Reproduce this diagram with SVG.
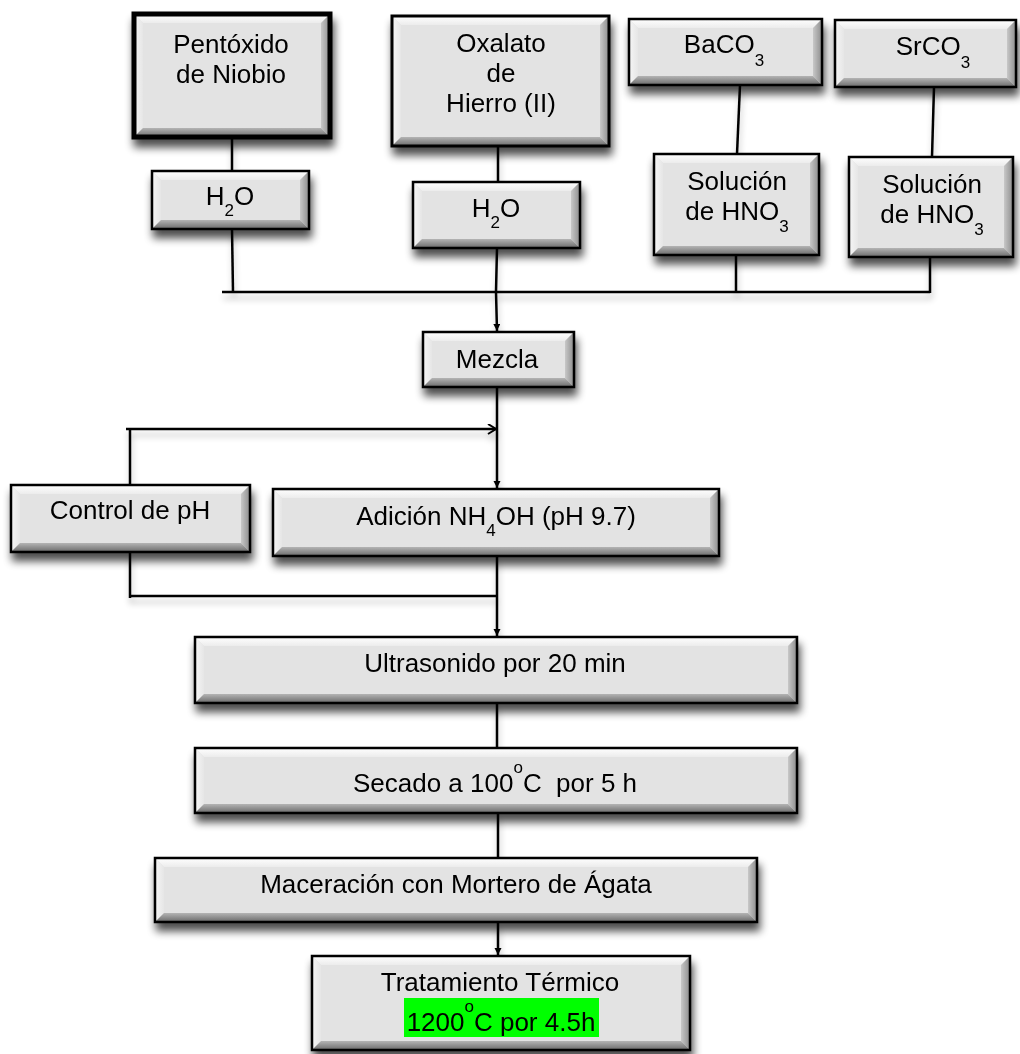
<svg xmlns="http://www.w3.org/2000/svg" width="1020" height="1054" viewBox="0 0 1020 1054">
<defs>
<style>
.t{font-family:"Liberation Sans",Arial,sans-serif;font-size:26px;fill:#000;text-anchor:middle}
.s{font-size:17px}
.face{fill:#e3e3e3}
.bt{fill:url(#gTop)}
.bl{fill:url(#gLeft)}
.br{fill:url(#gRight)}
.bb{fill:url(#gBot)}
.bd{fill:none;stroke:#000;stroke-width:2.5}
.c{fill:none;stroke:#000;stroke-width:2.5}
</style>
<linearGradient id="gTop" x1="0" y1="0" x2="0" y2="1"><stop offset="0" stop-color="#ffffff"/><stop offset="1" stop-color="#ececec"/></linearGradient>
<linearGradient id="gLeft" x1="0" y1="0" x2="1" y2="0"><stop offset="0" stop-color="#f6f6f6"/><stop offset="1" stop-color="#e6e6e6"/></linearGradient>
<linearGradient id="gRight" x1="0" y1="0" x2="1" y2="0"><stop offset="0" stop-color="#c8c8c8"/><stop offset="1" stop-color="#8c8c8c"/></linearGradient>
<linearGradient id="gBot" x1="0" y1="0" x2="0" y2="1"><stop offset="0" stop-color="#b4b4b4"/><stop offset="1" stop-color="#6a6a6a"/></linearGradient>
<filter id="sh" x="-10%" y="-20%" width="125%" height="160%">
<feGaussianBlur in="SourceAlpha" stdDeviation="4.5"/>
<feOffset dx="2" dy="8" result="b"/>
<feComponentTransfer><feFuncA type="linear" slope="0.7"/></feComponentTransfer>
<feMerge><feMergeNode/><feMergeNode in="SourceGraphic"/></feMerge>
</filter>
<filter id="shl" x="-10%" y="-50%" width="125%" height="200%">
<feGaussianBlur in="SourceAlpha" stdDeviation="3"/>
<feOffset dx="1" dy="6" result="b"/>
<feComponentTransfer><feFuncA type="linear" slope="0.25"/></feComponentTransfer>
<feMerge><feMergeNode/><feMergeNode in="SourceGraphic"/></feMerge>
</filter>
<marker id="arr" markerWidth="8" markerHeight="8" refX="7" refY="3.5" orient="auto" markerUnits="userSpaceOnUse"><path d="M0,0 L7,3.5 L0,7 z" fill="#000"/></marker>
<marker id="chev" markerWidth="12" markerHeight="12" refX="9" refY="5" orient="auto" markerUnits="userSpaceOnUse"><path d="M1,0 L9,5 L1,10" fill="none" stroke="#000" stroke-width="2"/></marker>
</defs>
<rect width="1020" height="1054" fill="#fff"/>

<g id="connectors" filter="url(#shl)">
<path class="c" d="M232,137 V171"/>
<path class="c" d="M232,229 L233,292"/>
<path class="c" d="M222,292 H930"/>
<path class="c" d="M498,146 V182"/>
<path class="c" d="M497,248 L496,292 L497,331" marker-end="url(#arr)"/>
<path class="c" d="M740,85 L737,154"/>
<path class="c" d="M736,255 V292"/>
<path class="c" d="M934,87 L932,157"/>
<path class="c" d="M930,257 V293"/>
<path class="c" d="M497,387 V488" marker-end="url(#arr)"/>
<path class="c" d="M126,429 H496" marker-end="url(#chev)"/>
<path class="c" d="M130,429 V485"/>
<path class="c" d="M130,552 V598"/>
<path class="c" d="M130,596 H497"/>
<path class="c" d="M497,556 V636" marker-end="url(#arr)"/>
<path class="c" d="M497,703 V748"/>
<path class="c" d="M498,813 V858"/>
<path class="c" d="M498,922 V955" marker-end="url(#arr)"/>
</g>

<g id="pentoxido" filter="url(#sh)">
<rect class="face" x="134" y="14" width="196" height="123"/>
<polygon class="bt" points="134,14 330,14 321,23 143,23"/>
<polygon class="bl" points="134,14 143,23 143,128 134,137"/>
<polygon class="br" points="330,14 330,137 321,128 321,23"/>
<polygon class="bb" points="134,137 330,137 321,128 143,128"/>
<rect class="bd" x="134" y="14" width="196" height="123" style="stroke-width:5"/>
<text class="t" x="231" y="53">Pentóxido</text>
<text class="t" x="231" y="83">de Niobio</text>
</g>

<g id="h2o1" filter="url(#sh)">
<rect class="face" x="152" y="171" width="157" height="58"/>
<polygon class="bt" points="152,171 309,171 300,180 161,180"/>
<polygon class="bl" points="152,171 161,180 161,220 152,229"/>
<polygon class="br" points="309,171 309,229 300,220 300,180"/>
<polygon class="bb" points="152,229 309,229 300,220 161,220"/>
<rect class="bd" x="152" y="171" width="157" height="58"/>
<text class="t" x="230" y="205">H<tspan class="s" dy="11">2</tspan><tspan dy="-11">O</tspan></text>
</g>

<g id="oxalato" filter="url(#sh)">
<rect class="face" x="392" y="16" width="217" height="130"/>
<polygon class="bt" points="392,16 609,16 600,25 401,25"/>
<polygon class="bl" points="392,16 401,25 401,137 392,146"/>
<polygon class="br" points="609,16 609,146 600,137 600,25"/>
<polygon class="bb" points="392,146 609,146 600,137 401,137"/>
<rect class="bd" x="392" y="16" width="217" height="130" style="stroke-width:3"/>
<text class="t" x="501" y="52">Oxalato</text>
<text class="t" x="501" y="82">de</text>
<text class="t" x="501" y="112">Hierro (II)</text>
</g>

<g id="h2o2" filter="url(#sh)">
<rect class="face" x="413" y="182" width="167" height="66"/>
<polygon class="bt" points="413,182 580,182 571,191 422,191"/>
<polygon class="bl" points="413,182 422,191 422,239 413,248"/>
<polygon class="br" points="580,182 580,248 571,239 571,191"/>
<polygon class="bb" points="413,248 580,248 571,239 422,239"/>
<rect class="bd" x="413" y="182" width="167" height="66"/>
<text class="t" x="496" y="217">H<tspan class="s" dy="11">2</tspan><tspan dy="-11">O</tspan></text>
</g>

<g id="baco3" filter="url(#sh)">
<rect class="face" x="629" y="19" width="193" height="66"/>
<polygon class="bt" points="629,19 822,19 813,28 638,28"/>
<polygon class="bl" points="629,19 638,28 638,76 629,85"/>
<polygon class="br" points="822,19 822,85 813,76 813,28"/>
<polygon class="bb" points="629,85 822,85 813,76 638,76"/>
<rect class="bd" x="629" y="19" width="193" height="66"/>
<text class="t" x="724" y="53">BaCO<tspan class="s" dy="13">3</tspan></text>
</g>

<g id="srco3" filter="url(#sh)">
<rect class="face" x="835" y="20" width="181" height="67"/>
<polygon class="bt" points="835,20 1016,20 1007,29 844,29"/>
<polygon class="bl" points="835,20 844,29 844,78 835,87"/>
<polygon class="br" points="1016,20 1016,87 1007,78 1007,29"/>
<polygon class="bb" points="835,87 1016,87 1007,78 844,78"/>
<rect class="bd" x="835" y="20" width="181" height="67"/>
<text class="t" x="933" y="55">SrCO<tspan class="s" dy="13">3</tspan></text>
</g>

<g id="solucion-ba" filter="url(#sh)">
<rect class="face" x="654" y="154" width="165" height="101"/>
<polygon class="bt" points="654,154 819,154 810,163 663,163"/>
<polygon class="bl" points="654,154 663,163 663,246 654,255"/>
<polygon class="br" points="819,154 819,255 810,246 810,163"/>
<polygon class="bb" points="654,255 819,255 810,246 663,246"/>
<rect class="bd" x="654" y="154" width="165" height="101"/>
<text class="t" x="737" y="190">Solución</text>
<text class="t" x="737" y="220">de HNO<tspan class="s" dy="12">3</tspan></text>
</g>

<g id="solucion-sr" filter="url(#sh)">
<rect class="face" x="849" y="157" width="164" height="100"/>
<polygon class="bt" points="849,157 1013,157 1004,166 858,166"/>
<polygon class="bl" points="849,157 858,166 858,248 849,257"/>
<polygon class="br" points="1013,157 1013,257 1004,248 1004,166"/>
<polygon class="bb" points="849,257 1013,257 1004,248 858,248"/>
<rect class="bd" x="849" y="157" width="164" height="100"/>
<text class="t" x="932" y="193">Solución</text>
<text class="t" x="932" y="223">de HNO<tspan class="s" dy="12">3</tspan></text>
</g>

<g id="mezcla" filter="url(#sh)">
<rect class="face" x="423" y="332" width="151" height="55"/>
<polygon class="bt" points="423,332 574,332 565,341 432,341"/>
<polygon class="bl" points="423,332 432,341 432,378 423,387"/>
<polygon class="br" points="574,332 574,387 565,378 565,341"/>
<polygon class="bb" points="423,387 574,387 565,378 432,378"/>
<rect class="bd" x="423" y="332" width="151" height="55"/>
<text class="t" x="497" y="368">Mezcla</text>
</g>

<g id="control" filter="url(#sh)">
<rect class="face" x="11" y="485" width="239" height="67"/>
<polygon class="bt" points="11,485 250,485 241,494 20,494"/>
<polygon class="bl" points="11,485 20,494 20,543 11,552"/>
<polygon class="br" points="250,485 250,552 241,543 241,494"/>
<polygon class="bb" points="11,552 250,552 241,543 20,543"/>
<rect class="bd" x="11" y="485" width="239" height="67"/>
<text class="t" x="130" y="519">Control de pH</text>
</g>

<g id="adicion" filter="url(#sh)">
<rect class="face" x="273" y="489" width="446" height="67"/>
<polygon class="bt" points="273,489 719,489 710,498 282,498"/>
<polygon class="bl" points="273,489 282,498 282,547 273,556"/>
<polygon class="br" points="719,489 719,556 710,547 710,498"/>
<polygon class="bb" points="273,556 719,556 710,547 282,547"/>
<rect class="bd" x="273" y="489" width="446" height="67"/>
<text class="t" x="496" y="525">Adición NH<tspan class="s" dy="11">4</tspan><tspan dy="-11">OH (pH 9.7)</tspan></text>
</g>

<g id="ultrasonido" filter="url(#sh)">
<rect class="face" x="195" y="637" width="602" height="66"/>
<polygon class="bt" points="195,637 797,637 788,646 204,646"/>
<polygon class="bl" points="195,637 204,646 204,694 195,703"/>
<polygon class="br" points="797,637 797,703 788,694 788,646"/>
<polygon class="bb" points="195,703 797,703 788,694 204,694"/>
<rect class="bd" x="195" y="637" width="602" height="66"/>
<text class="t" x="495" y="672">Ultrasonido por 20 min</text>
</g>

<g id="secado" filter="url(#sh)">
<rect class="face" x="195" y="748" width="602" height="65"/>
<polygon class="bt" points="195,748 797,748 788,757 204,757"/>
<polygon class="bl" points="195,748 204,757 204,804 195,813"/>
<polygon class="br" points="797,748 797,813 788,804 788,757"/>
<polygon class="bb" points="195,813 797,813 788,804 204,804"/>
<rect class="bd" x="195" y="748" width="602" height="65"/>
<text class="t" x="495" y="792" xml:space="preserve">Secado a 100<tspan class="s" dy="-19">o</tspan><tspan dy="19">C  por 5 h</tspan></text>
</g>

<g id="maceracion" filter="url(#sh)">
<rect class="face" x="155" y="858" width="602" height="64"/>
<polygon class="bt" points="155,858 757,858 748,867 164,867"/>
<polygon class="bl" points="155,858 164,867 164,913 155,922"/>
<polygon class="br" points="757,858 757,922 748,913 748,867"/>
<polygon class="bb" points="155,922 757,922 748,913 164,913"/>
<rect class="bd" x="155" y="858" width="602" height="64"/>
<text class="t" x="456" y="893">Maceración con Mortero de Ágata</text>
</g>

<g id="tratamiento" filter="url(#sh)">
<rect class="face" x="312" y="956" width="378" height="94"/>
<polygon class="bt" points="312,956 690,956 681,965 321,965"/>
<polygon class="bl" points="312,956 321,965 321,1041 312,1050"/>
<polygon class="br" points="690,956 690,1050 681,1041 681,965"/>
<polygon class="bb" points="312,1050 690,1050 681,1041 321,1041"/>
<rect class="bd" x="312" y="956" width="378" height="94"/>
<text class="t" x="500" y="991">Tratamiento Térmico</text>
<rect x="404" y="998" width="195" height="39" fill="#00ff00"/>
<text class="t" x="501" y="1031">1200<tspan class="s" dy="-19">o</tspan><tspan dy="19">C por 4.5h</tspan></text>
</g>
</svg>
